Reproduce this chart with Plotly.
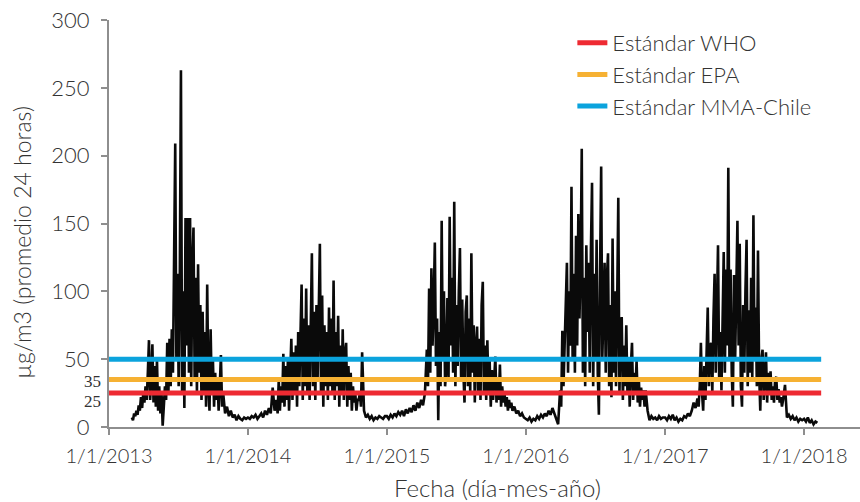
import pandas as pd
import plotly.graph_objects as go

# Daily PM2.5 (24 h average, µg/m3). Each segment: start date, sampling step, values.
# Winter seasons are kept at a 3-day step, the clean summer months at a 5-day step.
pm_2013_winter = [7, 5, 10, 8, 12, 9, 16, 12, 22, 14, 25, 18, 30, 20, 40, 64, 20, 35, 61, 18,
                  45, 15, 50, 12, 30, 10, 25, 1, 15, 30, 20, 62, 25, 65, 30, 72, 40, 112, 209, 50,
                  113, 30, 110, 263, 25, 100, 14, 154, 60, 154, 40, 154, 30, 120, 147, 35, 110, 25, 120, 40,
                  90, 20, 85, 25, 70, 15, 105, 30, 12, 72, 25, 50, 15, 40, 20, 35, 12, 30, 53, 15]
pm_2013_summer = [25, 10, 15, 8, 12, 7, 9, 5, 8, 6, 5, 7, 6]

pm_2014_early = [7, 6, 8, 7, 9, 6, 8, 10, 7, 12, 9, 14, 10, 29, 12]
pm_2014_winter = [20, 10, 35, 12, 30, 18, 54, 15, 45, 20, 50, 12, 40, 65, 20, 55, 25, 60, 15, 70,
                  30, 85, 105, 20, 80, 30, 102, 25, 75, 20, 90, 128, 30, 85, 20, 90, 35, 80, 135, 25,
                  97, 15, 75, 30, 70, 20, 88, 30, 80, 25, 108, 20, 70, 30, 82, 15, 60, 25, 72, 20,
                  55, 62, 15, 45, 20, 40, 12, 30, 18, 25, 12, 20, 20, 25, 15, 55]
pm_2014_late = [12, 7, 9, 6, 8, 5, 7, 6, 8, 7, 6, 8]

pm_2015_early = [8, 6, 9, 7, 10, 8, 11, 9, 12, 8, 13, 10, 14, 11, 16, 12, 18, 14, 20, 16, 25]
pm_2015_winter = [57, 30, 102, 40, 117, 60, 90, 136, 45, 80, 5, 70, 30, 152, 50, 100, 30, 43, 95, 35,
                  155, 60, 110, 40, 166, 30, 90, 45, 100, 132, 35, 94, 40, 18, 85, 97, 30, 80, 25, 128,
                  40, 75, 18, 60, 74, 25, 65, 20, 90, 107, 25, 60, 20, 64, 25, 50, 15, 42, 20, 35,
                  52, 18, 35, 20, 46, 15, 30, 18, 25, 15, 22, 12, 20, 14, 18, 12]
pm_2015_late = [15, 10, 12, 8, 10, 7]

pm_2016_early = [6, 5, 7, 4, 6, 5, 8, 6, 9, 7, 10, 8, 12, 9, 14, 10, 6, 2]
pm_2016_winter = [27, 15, 71, 30, 60, 90, 121, 40, 100, 60, 177, 50, 113, 40, 141, 60, 157, 80, 120, 205,
                  40, 110, 30, 134, 70, 121, 40, 130, 180, 30, 113, 50, 138, 40, 9, 110, 192, 50, 100, 121,
                  40, 110, 128, 30, 90, 22, 139, 40, 100, 30, 90, 169, 25, 70, 81, 20, 60, 30, 75, 25,
                  50, 15, 45, 62, 20, 40, 25, 49, 18, 35, 15, 29, 20, 27, 15, 27]
pm_2016_late = [12, 5, 8, 6, 7, 5, 8, 6, 7]

pm_2017_early = [7, 5, 8, 6, 9, 5, 7, 4, 6, 5, 8, 7, 10, 8, 12, 18, 14]
pm_2017_winter = [21, 15, 30, 62, 25, 12, 45, 20, 55, 88, 30, 60, 62, 25, 80, 113, 40, 90, 134, 35,
                  70, 27, 100, 129, 40, 116, 60, 191, 50, 116, 40, 15, 112, 50, 100, 152, 60, 135, 30, 15,
                  90, 40, 100, 138, 30, 86, 40, 110, 35, 156, 50, 88, 30, 130, 40, 12, 50, 57, 20, 45,
                  55, 18, 40, 25, 41, 20, 30, 18, 35, 37, 20, 28, 18, 22, 15, 20]
pm_2017_late = [31, 7, 9, 6, 8, 5, 7, 4, 6, 5]

pm_2018_early = [6, 4, 7, 3, 5, 2, 4, 3]

segments = [
    ("2013-03-02", "3D", pm_2013_winter), ("2013-10-28", "5D", pm_2013_summer),
    ("2014-01-01", "5D", pm_2014_early), ("2014-03-17", "3D", pm_2014_winter), ("2014-11-02", "5D", pm_2014_late),
    ("2015-01-01", "5D", pm_2015_early), ("2015-04-16", "3D", pm_2015_winter), ("2015-12-02", "5D", pm_2015_late),
    ("2016-01-01", "5D", pm_2016_early), ("2016-03-31", "3D", pm_2016_winter), ("2016-11-16", "5D", pm_2016_late),
    ("2017-01-01", "5D", pm_2017_early), ("2017-03-27", "3D", pm_2017_winter), ("2017-11-12", "5D", pm_2017_late),
    ("2018-01-01", "5D", pm_2018_early),
]

# Air-quality standards for PM2.5 (µg/m3)
standard_names = ["Estándar WHO", "Estándar EPA", "Estándar MMA-Chile"]
standard_values = [25, 35, 50]
standard_colors = ["#EE2A32", "#F6B133", "#0BA3DD"]
standard_span = ["2013-01-01", "2018-02-15"]

x_tick_dates = ["2013-01-01", "2014-01-01", "2015-01-01", "2016-01-01", "2017-01-01", "2018-01-01"]
x_tick_labels = ["1/1/2013", "1/1/2014", "1/1/2015", "1/1/2016", "1/1/2017", "1/1/2018"]
y_ticks = [0, 50, 100, 150, 200, 250, 300]

dates, values = [], []
for start, step, vals in segments:
    dates.extend(pd.date_range(start, periods=len(vals), freq=step))
    values.extend(vals)

FONT = "Lato, 'Open Sans', sans-serif"
TEXT = "#333333"
AXIS = "#8E8E8E"

fig = go.Figure()
fig.add_trace(go.Scatter(x=dates, y=values, mode="lines",
                         line=dict(color="#0A0A0A", width=2.6),
                         showlegend=False, name="PM2.5"))
for name, val, col in zip(standard_names, standard_values, standard_colors):
    fig.add_trace(go.Scatter(x=standard_span, y=[val, val], mode="lines",
                             line=dict(color=col, width=5), name=name))

fig.update_layout(
    width=860, height=502,
    margin=dict(l=109, r=0, t=20, b=75),
    paper_bgcolor="white", plot_bgcolor="white",
    font=dict(family=FONT, size=21, color=TEXT, weight=300),
    legend=dict(x=0.617, y=0.995, xanchor="left", yanchor="top",
                bgcolor="rgba(0,0,0,0)", font=dict(size=22, color=TEXT, weight=300),
                tracegroupgap=0),
    xaxis=dict(type="date", range=["2013-01-01", "2018-05-28"],
               tickvals=x_tick_dates, ticktext=x_tick_labels,
               tickfont=dict(size=20),
               showgrid=False, zeroline=False, showline=True,
               linecolor=AXIS, linewidth=2, ticks="outside", ticklen=6,
               tickwidth=2, tickcolor=AXIS, ticklabelstandoff=4),
    yaxis=dict(range=[0, 300], tickvals=y_ticks, tickfont=dict(size=22),
               showgrid=False, zeroline=False, showline=True,
               linecolor=AXIS, linewidth=2, ticks="outside", ticklen=6,
               tickwidth=2, tickcolor=AXIS, ticklabelstandoff=7),
)

# Extra labels for the two lower standards, nudged apart so they do not collide
label_shift = {25: -8, 35: -2}
for val in standard_values[:2]:
    fig.add_annotation(x=0, xref="paper", xshift=-7, y=val, yref="y", yshift=label_shift[val],
                       text=str(val), showarrow=False, xanchor="right", yanchor="middle",
                       borderpad=0,
                       font=dict(family="'Liberation Serif', serif", size=17, color=TEXT))

fig.add_annotation(text="µg/m3 (promedio 24 horas)", textangle=-90,
                   x=-0.116, xref="paper", y=0.455, yref="paper",
                   showarrow=False, xanchor="center", yanchor="middle",
                   font=dict(size=23, color=TEXT, weight=300))
fig.add_annotation(text="Fecha (día-mes-año)",
                   x=0.517, xref="paper", y=-0.148, yref="paper",
                   showarrow=False, xanchor="center", yanchor="middle",
                   font=dict(size=24, color=TEXT, weight=300))

fig.write_html("out.html")
